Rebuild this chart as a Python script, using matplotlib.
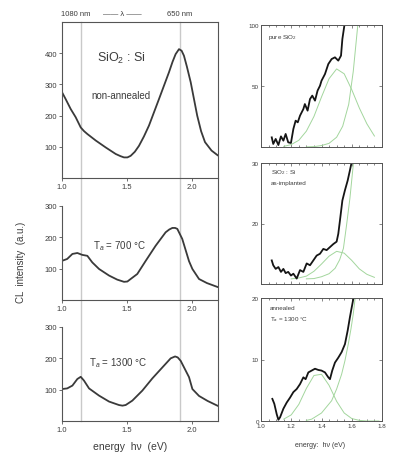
import matplotlib
matplotlib.use("Agg")
import matplotlib.pyplot as plt
from matplotlib.lines import Line2D
from matplotlib.ticker import MultipleLocator
import matplotlib.transforms as mtransforms

plt.rcParams['font.family'] = ['Liberation Sans', 'DejaVu Sans']
plt.rcParams['mathtext.fontset'] = 'custom'
plt.rcParams['mathtext.rm'] = 'Liberation Sans'
plt.rcParams['mathtext.it'] = 'Liberation Sans:italic'

# ---------------- data ----------------
# left column: CL spectra
E_TOP = [1.0, 1.028, 1.067, 1.105, 1.144, 1.17, 1.195, 1.26, 1.336, 1.413, 1.45, 1.477, 1.503,
         1.528, 1.56, 1.592, 1.63, 1.669, 1.746, 1.823, 1.85, 1.874, 1.9, 1.92, 1.938, 1.96,
         1.99, 2.04, 2.07, 2.1, 2.15, 2.2]
I_TOP = [275, 253, 221, 195, 162, 150, 141, 120, 98, 77, 70, 66, 66,
         71, 84, 103, 133, 168, 253, 339, 372, 397, 413, 408, 392, 358,
         307, 200, 150, 115, 88, 72]

E_MID = [1.0, 1.04, 1.08, 1.118, 1.156, 1.195, 1.233, 1.285, 1.362, 1.425, 1.477, 1.503, 1.528,
         1.579, 1.644, 1.72, 1.797, 1.825, 1.849, 1.87, 1.887, 1.925, 1.977, 2.003, 2.054,
         2.115, 2.2]
I_MID = [125, 131, 147, 150, 144, 141, 120, 99, 78, 65, 58, 59, 67,
         83, 125, 173, 216, 225, 230, 230, 227, 195, 124, 99, 67,
         54, 41]

E_BOT = [1.0, 1.04, 1.08, 1.118, 1.144, 1.169, 1.208, 1.285, 1.362, 1.438, 1.465, 1.49, 1.541,
         1.618, 1.695, 1.772, 1.836, 1.87, 1.89, 1.913, 1.977, 2.003, 2.054, 2.12, 2.2]
I_BOT = [102, 104, 113, 134, 141, 129, 104, 81, 62, 51, 49, 51, 65,
         97, 136, 171, 200, 206, 203, 192, 140, 102, 80, 64, 48]

LINE_E = [1.148, 1.907]          # 1080 nm and 650 nm
LEFT_LABELS = ["non-annealed", "T$_a$ = 700 °C", "T$_a$ = 1300 °C"]

# right column: zoomed spectra (black) and two fitted bands (green)
ER_TOP = [1.071, 1.081, 1.097, 1.115, 1.132, 1.148, 1.163, 1.18, 1.198, 1.214, 1.229, 1.243,
          1.258, 1.28, 1.29, 1.308, 1.324, 1.339, 1.357, 1.374, 1.39, 1.40, 1.423, 1.445,
          1.467, 1.489, 1.511, 1.529, 1.538, 1.551, 1.56]
IR_TOP = [7.9, 2.5, 6.6, 1.6, 8.7, 5.2, 10.7, 3.8, 3.3, 14.8, 21.6, 20.2,
          25.7, 31.1, 35.2, 29.8, 39.3, 42.1, 38, 46.2, 50.2, 54.3, 59.8, 68,
          72.1, 73.5, 70.8, 74.9, 88.5, 99.4, 110]
G1_TOP_E = [1.15, 1.20, 1.25, 1.30, 1.35, 1.40, 1.45, 1.50, 1.55, 1.60, 1.65, 1.70, 1.75]
G1_TOP_I = [0.5, 2, 5.5, 13, 25, 41, 56, 64, 60, 47, 32, 19, 9]
G2_TOP_E = [1.30, 1.35, 1.40, 1.45, 1.50, 1.54, 1.58, 1.61, 1.64, 1.67]
G2_TOP_I = [0.1, 0.3, 1.2, 3, 8, 17, 35, 62, 100, 150]

ER_MID = [1.071, 1.081, 1.097, 1.115, 1.132, 1.148, 1.163, 1.18, 1.198, 1.214, 1.236, 1.258,
          1.28, 1.302, 1.324, 1.346, 1.368, 1.39, 1.412, 1.434, 1.456, 1.478, 1.50, 1.511,
          1.522, 1.538, 1.555, 1.573, 1.588, 1.60, 1.61]
IR_MID = [13.9, 13.1, 12.5, 12.8, 12.0, 12.5, 11.8, 12.0, 11.4, 11.7, 10.9, 12.3,
          12.0, 13.4, 13.1, 13.9, 14.7, 15.0, 15.8, 15.6, 16.1, 16.6, 17.0, 18.3,
          20.5, 23.8, 25.5, 27.1, 28.8, 30.2, 31.5]
G1_MID_E = [1.20, 1.25, 1.30, 1.35, 1.40, 1.45, 1.50, 1.55, 1.60, 1.65, 1.70, 1.75]
G1_MID_I = [10.85, 11.0, 11.3, 12.1, 13.3, 14.6, 15.4, 15.1, 13.9, 12.5, 11.6, 11.1]
G2_MID_E = [1.30, 1.35, 1.40, 1.45, 1.49, 1.52, 1.545, 1.566, 1.588, 1.61, 1.63]
G2_MID_I = [10.85, 10.9, 11.2, 11.7, 12.6, 14.0, 15.9, 19.8, 24.2, 29.7, 36]

ER_BOT = [1.075, 1.088, 1.104, 1.115, 1.126, 1.148, 1.17, 1.192, 1.214, 1.236, 1.258, 1.28,
          1.295, 1.313, 1.335, 1.357, 1.379, 1.40, 1.423, 1.445, 1.456, 1.471, 1.489, 1.511,
          1.533, 1.555, 1.573, 1.588, 1.60, 1.61, 1.62]
IR_BOT = [3.6, 2.8, 1.1, 0.2, 0.6, 2.0, 3.0, 3.8, 4.7, 5.2, 6.0, 7.1,
          6.8, 7.9, 8.2, 8.5, 8.3, 8.2, 7.9, 7.1, 6.8, 8.2, 9.5, 10.3,
          11.2, 12.5, 14.7, 16.9, 18.5, 19.8, 21]
G1_BOT_E = [1.15, 1.20, 1.25, 1.30, 1.35, 1.40, 1.45, 1.50, 1.55, 1.60, 1.65, 1.70, 1.75, 1.78]
G1_BOT_I = [0.3, 1.0, 2.7, 5.3, 7.4, 7.6, 5.8, 3.2, 1.3, 0.4, 0.1, 0.0, 0.0, 0.0]
G2_BOT_E = [1.30, 1.335, 1.40, 1.467, 1.50, 1.533, 1.555, 1.577, 1.595, 1.61, 1.625]
G2_BOT_I = [0.1, 0.3, 1.3, 3.3, 5.2, 7.6, 9.8, 12.5, 15.0, 17.4, 20.5]

# ---------------- figure ----------------
W, H = 393, 456
fig = plt.figure(figsize=(W / 100, H / 100), dpi=100)

def box(x0, y0, x1, y1):
    return [x0 / W, 1 - y1 / H, (x1 - x0) / W, (y1 - y0) / H]

def fx(x):
    return x / W

def fy(y):
    return 1 - y / H

SP = '#555555'
CURVE = '#3a3a3a'
TXT = '#3c3c3c'
GREEN = '#a3d69d'

# left panels
ax_t = fig.add_axes(box(62, 23, 218, 179))
ax_m = fig.add_axes(box(62, 207, 218, 301))
ax_b = fig.add_axes(box(62, 328, 218, 422))

for ax, e, i, ymax, yt in [(ax_t, E_TOP, I_TOP, 500, [100, 200, 300, 400]),
                           (ax_m, E_MID, I_MID, 300, [100, 200, 300]),
                           (ax_b, E_BOT, I_BOT, 300, [100, 200, 300])]:
    ax.patch.set_alpha(0)
    ax.plot(e, i, color=CURVE, lw=1.3, solid_capstyle='round', solid_joinstyle='round')
    ax.set_xlim(1.0, 2.2)
    ax.set_ylim(0, ymax)
    ax.set_xticks([1.0, 1.5, 2.0])
    ax.set_xticklabels(["1.0", "1.5", "2.0"])
    ax.set_yticks(yt)
    ax.tick_params(axis='both', labelsize=5.5, colors=SP, labelcolor=TXT,
                   length=2, width=0.6, direction='out', pad=1.5)
    for s in ax.spines.values():
        s.set_color(SP)
        s.set_linewidth(0.8)
    ax.spines['right'].set_visible(False)
    if ax is not ax_t:
        ax.spines['top'].set_visible(False)

# continuous right frame line and wavelength marker lines
fig.add_artist(Line2D([fx(218), fx(218)], [fy(23), fy(422)], transform=fig.transFigure,
                      color=SP, lw=0.8))
trans = mtransforms.blended_transform_factory(ax_t.transData, fig.transFigure)
for e in LINE_E:
    fig.add_artist(Line2D([e, e], [fy(23), fy(422)], transform=trans,
                          color='#c9c9c9', lw=1.0, zorder=-1))

fig.text(fx(75.5), fy(15), "1080 nm", ha='center', va='center', fontsize=5.5, color=TXT)
fig.text(fx(122), fy(15), "—— λ ——", ha='center', va='center', fontsize=5.5, color=TXT)
fig.text(fx(179.5), fy(15), "650 nm", ha='center', va='center', fontsize=5.5, color=TXT)

fig.text(fx(121), fy(58), "SiO$_2$ : Si", ha='center', va='center', fontsize=9, color=TXT)
fig.text(fx(121), fy(96), LEFT_LABELS[0], ha='center', va='center', fontsize=7, color=TXT)
fig.text(fx(119), fy(246), LEFT_LABELS[1], ha='center', va='center', fontsize=7, color=TXT)
fig.text(fx(118), fy(363), LEFT_LABELS[2], ha='center', va='center', fontsize=7, color=TXT)
fig.text(fx(21), fy(262), "CL  intensity  (a.u.)", rotation=90, ha='center', va='center',
         fontsize=7, color=TXT)
fig.text(fx(130), fy(447), "energy  hν  (eV)", ha='center', va='center', fontsize=7.5, color=TXT)

# right panels
axr_t = fig.add_axes(box(261, 26, 382, 148))
axr_m = fig.add_axes(box(261, 164, 382, 285))
axr_b = fig.add_axes(box(261, 299, 382, 422))

right = [(axr_t, ER_TOP, IR_TOP, G1_TOP_E, G1_TOP_I, G2_TOP_E, G2_TOP_I, (0, 100),
          [0, 50, 100], ["", "50", "100"]),
         (axr_m, ER_MID, IR_MID, G1_MID_E, G1_MID_I, G2_MID_E, G2_MID_I, (10, 30),
          [10, 20, 30], ["", "20", "30"]),
         (axr_b, ER_BOT, IR_BOT, G1_BOT_E, G1_BOT_I, G2_BOT_E, G2_BOT_I, (0, 20),
          [0, 10, 20], ["0", "10", "20"])]
for ax, e, i, g1e, g1i, g2e, g2i, yl, yt, ytl in right:
    ax.plot(g1e, g1i, color=GREEN, lw=0.7)
    ax.plot(g2e, g2i, color=GREEN, lw=0.7)
    ax.plot(e, i, color='#151515', lw=1.3, solid_joinstyle='round')
    ax.set_xlim(1.0, 1.8)
    ax.set_ylim(*yl)
    ax.set_xticks([1.0, 1.2, 1.4, 1.6, 1.8])
    ax.xaxis.set_minor_locator(MultipleLocator(0.05))
    ax.set_yticks(yt)
    ax.set_yticklabels(ytl)
    ax.tick_params(axis='both', which='both', direction='in', top=True, right=True,
                   labelsize=4.5, colors=SP, labelcolor=TXT, width=0.5, pad=1.5)
    ax.tick_params(which='major', length=2.5)
    ax.tick_params(which='minor', length=1.5)
    if ax is not axr_b:
        ax.set_xticklabels([])
    else:
        ax.set_xticklabels(["1.0", "1.2", "1.4", "1.6", "1.8"])
    for s in ax.spines.values():
        s.set_color(SP)
        s.set_linewidth(0.7)

fig.text(fx(268), fy(38), "pure SiO$_2$", ha='left', va='center', fontsize=4.5, color=TXT)
fig.text(fx(271), fy(173), "SiO$_2$ : Si", ha='left', va='center', fontsize=4.5, color=TXT)
fig.text(fx(271), fy(184), "as-implanted", ha='left', va='center', fontsize=4.5, color=TXT)
fig.text(fx(270), fy(309), "annealed", ha='left', va='center', fontsize=4.5, color=TXT)
fig.text(fx(270), fy(320), "T$_a$ = 1300 °C", ha='left', va='center', fontsize=4.5, color=TXT)
fig.text(fx(320), fy(446), "energy:  hν (eV)", ha='center', va='center', fontsize=5, color=TXT)

fig.savefig("out.png", dpi=100)
